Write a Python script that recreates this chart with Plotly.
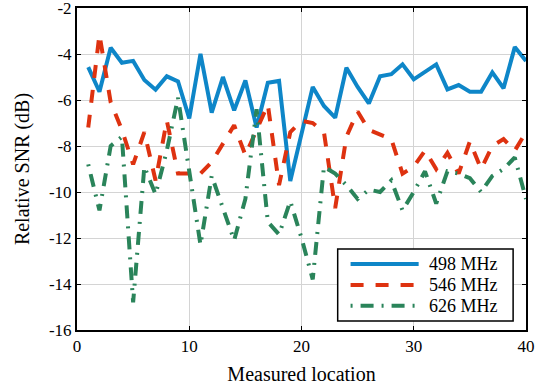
import plotly.graph_objects as go

# Measured locations and relative SNR (dB) per frequency
locations = list(range(1, 41))

snr_498 = [-4.57, -5.64, -3.73, -4.38, -4.30, -5.13, -5.55, -4.97, -5.19, -6.80,
           -3.99, -6.55, -5.00, -6.45, -5.15, -7.20, -5.25, -5.17, -9.52, -7.50,
           -5.43, -6.26, -6.77, -4.60, -5.43, -6.15, -4.97, -4.88, -4.45, -5.10,
           -4.77, -4.45, -5.54, -5.35, -5.64, -5.64, -4.80, -5.49, -3.70, -4.30]

snr_546 = [-7.2, -3.15, -6.1, -7.3, -8.8, -7.4, -9.5, -6.9, -9.2, -9.2,
           -9.2, -8.7, -7.9, -7.1, -8.4, -7.3, -6.2, -9.7, -7.4, -6.9,
           -7.0, -7.4, -10.7, -7.6, -6.5, -7.3, -7.5, -7.7, -9.2, -8.9,
           -8.2, -9.0, -8.3, -9.2, -7.8, -9.0, -8.0, -7.7, -8.2, -7.4]

snr_626 = [-8.8, -10.8, -8.0, -7.6, -14.8, -8.9, -10.1, -8.2, -5.9, -9.1,
           -12.3, -9.3, -10.7, -12.1, -10.3, -6.4, -11.3, -11.85, -10.4, -12.0,
           -13.8, -8.9, -9.2, -9.7, -10.3, -9.9, -10.0, -9.5, -10.8, -10.0,
           -9.1, -10.5, -9.1, -9.2, -9.4, -10.0, -9.3, -9.0, -8.5, -10.3]

series_names = ["498 MHz", "546 MHz", "626 MHz"]
series_data = [snr_498, snr_546, snr_626]
series_colors = ["#0e86c8", "#de3210", "#2a845a"]
series_dash = ["solid", "13px,12px", "2px,8px,13px,8px"]

x_ticks = [0, 10, 20, 30, 40]
y_ticks = [-16, -14, -12, -10, -8, -6, -4, -2]
y_tick_text = ["-16", "-14", "-12", "-10", "-8", "-6", "-4", "-2"]

font_family = "Liberation Serif, DejaVu Serif, serif"

fig = go.Figure()

for name, values, color, dash in zip(series_names, series_data, series_colors, series_dash):
    fig.add_trace(go.Scatter(
        x=locations, y=values, mode="lines", name=name,
        line=dict(color=color, width=4, dash=dash),
        showlegend=False,
    ))

axis_common = dict(
    showgrid=True, gridcolor="#d4d4d4", gridwidth=1,
    showline=True, linecolor="black", linewidth=2, mirror="ticks",
    ticks="inside", ticklen=4, tickcolor="black", tickwidth=1,
    zeroline=False, ticklabeloverflow="allow", automargin=False,
    tickfont=dict(family=font_family, size=17, color="black"),
)

fig.update_xaxes(
    range=[0, 40], tickvals=x_ticks,
    title=dict(text="Measured location", font=dict(family=font_family, size=20, color="black"), standoff=12),
    **axis_common,
)
fig.update_yaxes(
    range=[-16, -2], tickvals=y_ticks, ticktext=y_tick_text,
    title=dict(text="Relative SNR (dB)", font=dict(family=font_family, size=20, color="black"), standoff=14),
    **axis_common,
)

# Legend drawn as a framed box with long line samples
box_x0, box_x1, box_y0, box_y1 = 0.5806, 0.9713, 0.028, 0.2516
sample_x0, sample_x1, text_x = 0.6093, 0.7609, 0.7792
entry_y = [0.205, 0.140, 0.075]

shapes = [dict(type="rect", xref="paper", yref="paper",
               x0=box_x0, x1=box_x1, y0=box_y0, y1=box_y1,
               line=dict(color="black", width=1.5), fillcolor="white", layer="above")]
annotations = []
for name, color, dash, ey in zip(series_names, series_colors, series_dash, entry_y):
    shapes.append(dict(type="line", xref="paper", yref="paper",
                       x0=sample_x0, x1=sample_x1, y0=ey, y1=ey,
                       line=dict(color=color, width=4, dash=dash), layer="above"))
    annotations.append(dict(xref="paper", yref="paper", x=text_x, y=ey,
                            xanchor="left", yanchor="middle", showarrow=False,
                            text=name, font=dict(family=font_family, size=18, color="black")))

fig.update_layout(
    width=535, height=390,
    margin=dict(l=77, r=9, t=8, b=60),
    paper_bgcolor="white", plot_bgcolor="white",
    showlegend=False,
    shapes=shapes,
    annotations=annotations,
)

fig.write_html("out.html")
